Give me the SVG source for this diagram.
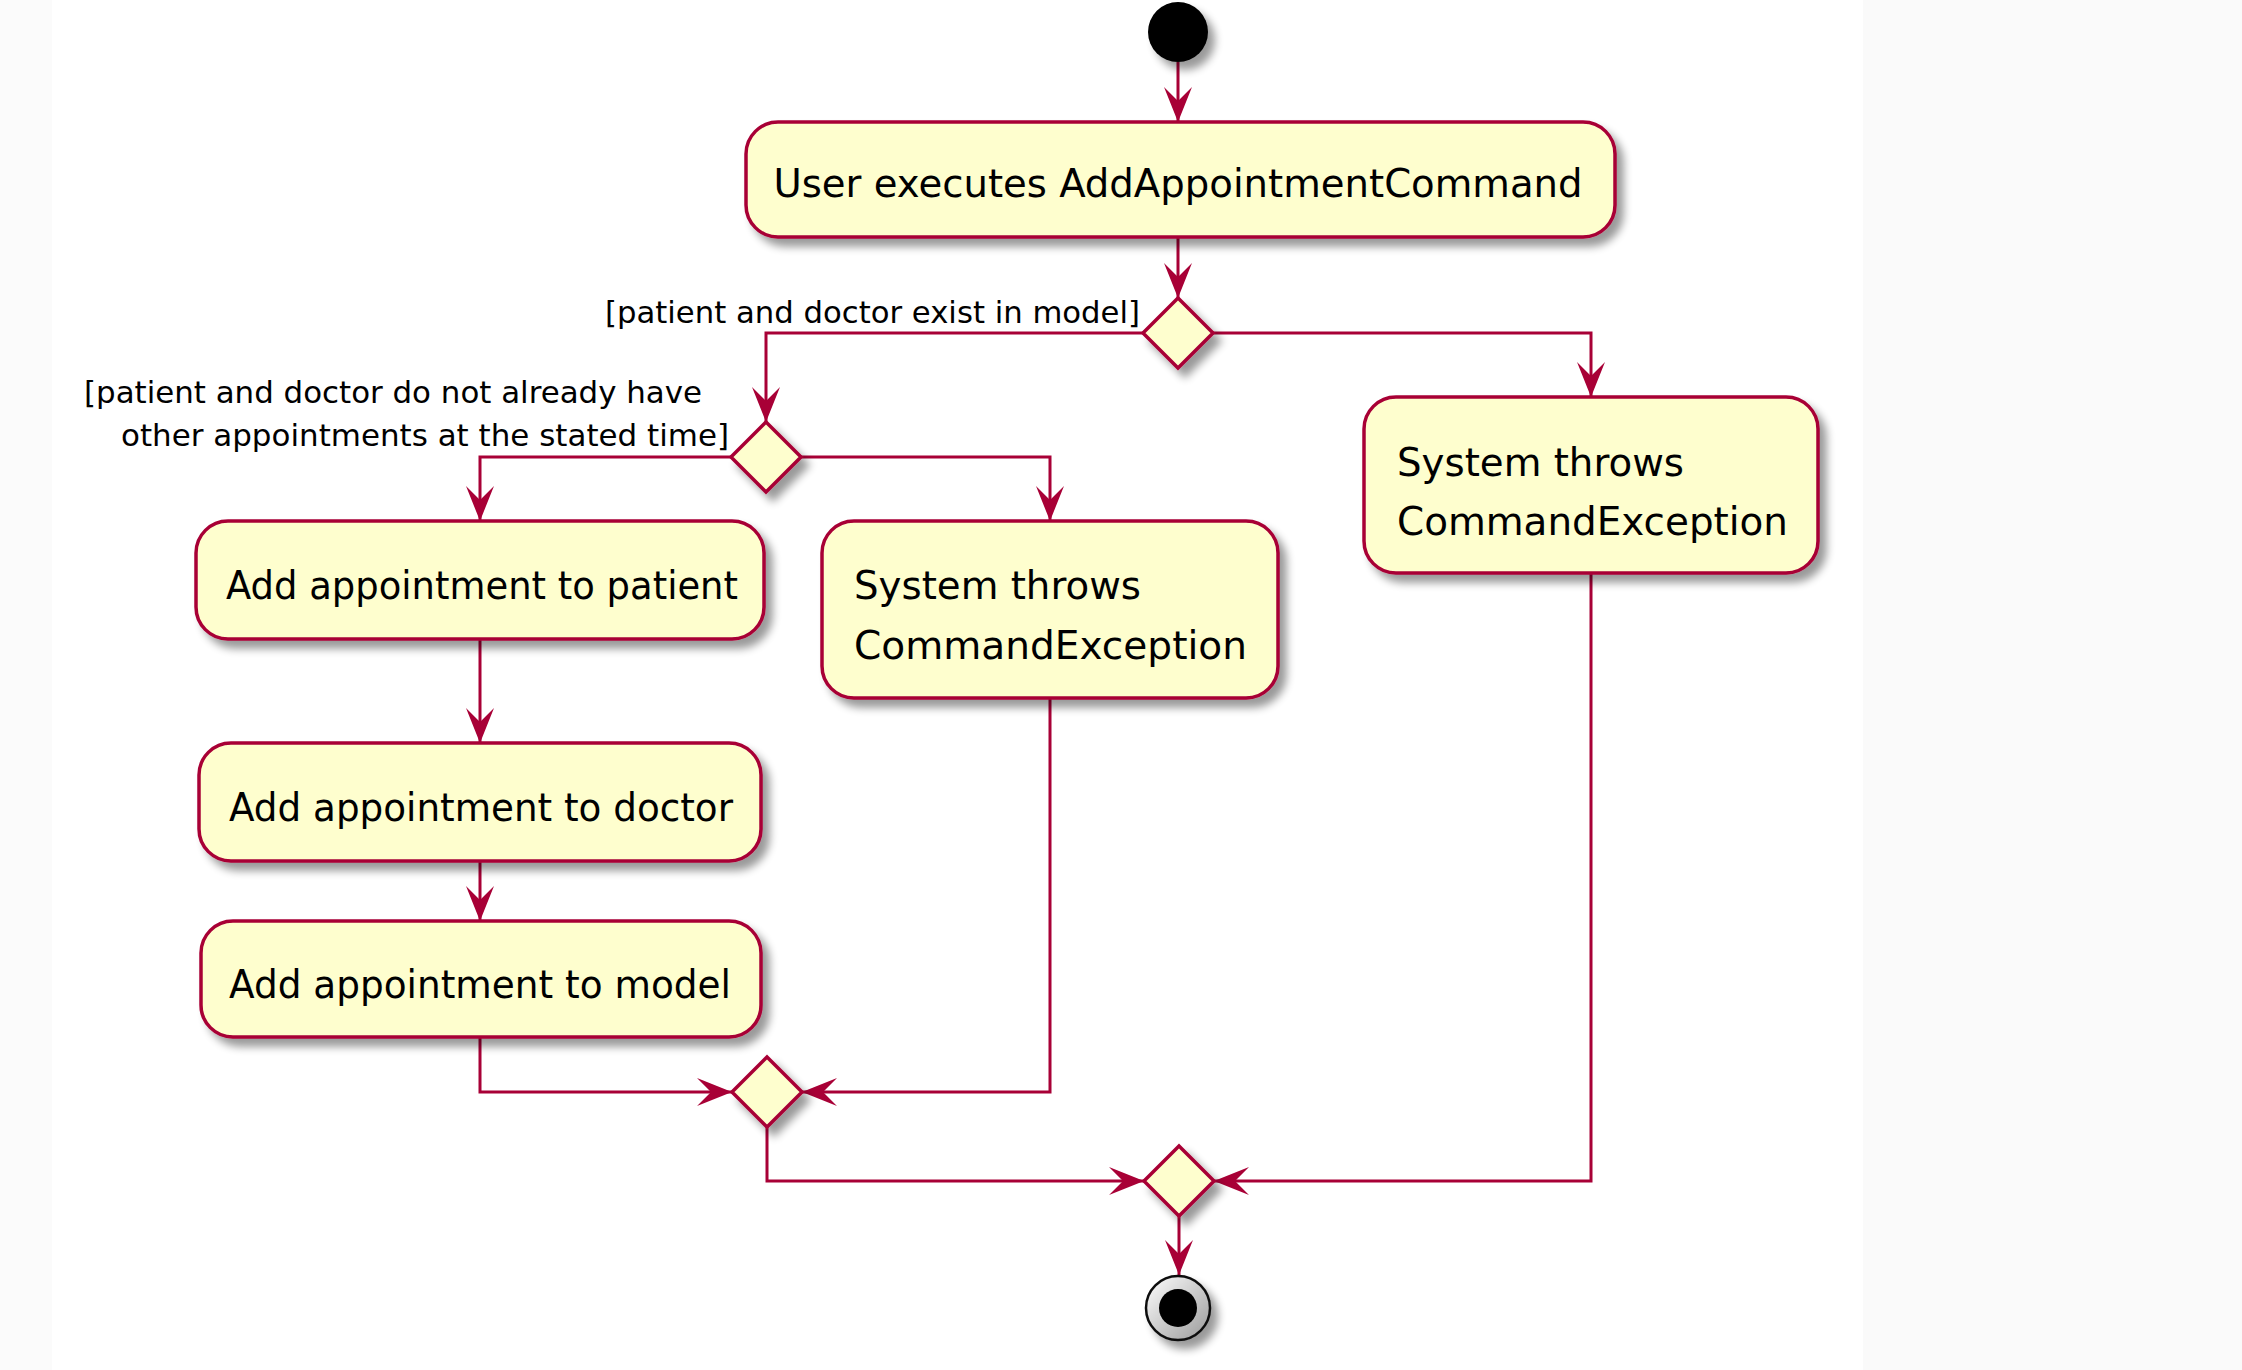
<svg xmlns="http://www.w3.org/2000/svg" width="2242" height="1370" viewBox="0 0 2242 1370">
<style>
.act{fill:#FEFECE;stroke:#A80036;stroke-width:3.5}
.dia{fill:#FEFECE;stroke:#A80036;stroke-width:3.5}
.tx{font-family:"DejaVu Sans","Liberation Sans",sans-serif;font-size:38.5px;fill:#000}
.lb{font-family:"DejaVu Sans","Liberation Sans",sans-serif;font-size:31px;fill:#000}
.cn{fill:none;stroke:#A80036;stroke-width:3}
</style>
<defs>
<filter id="sh" x="-20%" y="-20%" width="150%" height="160%">
<feGaussianBlur in="SourceAlpha" stdDeviation="4"/>
<feOffset dx="7" dy="8"/>
<feComponentTransfer><feFuncA type="linear" slope="0.4"/></feComponentTransfer>
<feMerge><feMergeNode/><feMergeNode in="SourceGraphic"/></feMerge>
</filter>
<marker id="ah" markerUnits="userSpaceOnUse" viewBox="-36 -16 37 32" refX="0" refY="0" markerWidth="37" markerHeight="32" orient="auto">
<path d="M0,0 L-35,-14 L-21,0 L-35,14 Z" fill="#A80036"/>
</marker>
<linearGradient id="ring" x1="0" y1="0" x2="1" y2="1">
<stop offset="0" stop-color="#ffffff"/>
<stop offset="1" stop-color="#9a9a9a"/>
</linearGradient>
</defs>
<rect x="0" y="0" width="2242" height="1370" fill="#ffffff"/>
<rect x="0" y="0" width="52" height="1370" fill="#fbfbfb"/>
<rect x="1863" y="0" width="379" height="1370" fill="#fafafa"/>

<g id="connectors">
<path class="cn" d="M1178,62 L1178,122" marker-end="url(#ah)"/>
<path class="cn" d="M1178,237 L1178,298" marker-end="url(#ah)"/>
<path class="cn" d="M1143,333 L766,333 L766,422" marker-end="url(#ah)"/>
<path class="cn" d="M1213,333 L1591,333 L1591,397" marker-end="url(#ah)"/>
<path class="cn" d="M731,457 L480,457 L480,521" marker-end="url(#ah)"/>
<path class="cn" d="M801,457 L1050,457 L1050,521" marker-end="url(#ah)"/>
<path class="cn" d="M480,639 L480,743" marker-end="url(#ah)"/>
<path class="cn" d="M480,861 L480,921" marker-end="url(#ah)"/>
<path class="cn" d="M480,1037 L480,1092 L732,1092" marker-end="url(#ah)"/>
<path class="cn" d="M1050,698 L1050,1092 L802,1092" marker-end="url(#ah)"/>
<path class="cn" d="M767,1127 L767,1181 L1144,1181" marker-end="url(#ah)"/>
<path class="cn" d="M1591,573 L1591,1181 L1214,1181" marker-end="url(#ah)"/>
<path class="cn" d="M1179,1216 L1179,1275" marker-end="url(#ah)"/>
<text class="lb" x="605" y="323" textLength="535" lengthAdjust="spacingAndGlyphs">[patient and doctor exist in model]</text>
<text class="lb" x="84" y="403" textLength="618" lengthAdjust="spacingAndGlyphs">[patient and doctor do not already have</text>
<text class="lb" x="121" y="446" textLength="608" lengthAdjust="spacingAndGlyphs">other appointments at the stated time]</text>
</g>

<g id="start">
<circle cx="1178" cy="32" r="30" fill="#000" filter="url(#sh)"/>
</g>

<g id="userExecutes">
<rect class="act" x="746" y="122" width="869" height="115" rx="32" ry="32" filter="url(#sh)"/>
<text class="tx" x="1178" y="197" text-anchor="middle" textLength="809" lengthAdjust="spacingAndGlyphs">User executes AddAppointmentCommand</text>
</g>

<g id="decision1">
<polygon class="dia" points="1178,298 1213,333 1178,368 1143,333" filter="url(#sh)"/>
</g>

<g id="decision2">
<polygon class="dia" points="766,422 801,457 766,492 731,457" filter="url(#sh)"/>
</g>

<g id="addPatient">
<rect class="act" x="196" y="521" width="568" height="118" rx="32" ry="32" filter="url(#sh)"/>
<text class="tx" x="482" y="599" text-anchor="middle" textLength="512" lengthAdjust="spacingAndGlyphs">Add appointment to patient</text>
</g>

<g id="addDoctor">
<rect class="act" x="199" y="743" width="562" height="118" rx="32" ry="32" filter="url(#sh)"/>
<text class="tx" x="481" y="821" text-anchor="middle" textLength="504" lengthAdjust="spacingAndGlyphs">Add appointment to doctor</text>
</g>

<g id="addModel">
<rect class="act" x="201" y="921" width="560" height="116" rx="32" ry="32" filter="url(#sh)"/>
<text class="tx" x="480" y="998" text-anchor="middle" textLength="502" lengthAdjust="spacingAndGlyphs">Add appointment to model</text>
</g>

<g id="throwsMiddle">
<rect class="act" x="822" y="521" width="456" height="177" rx="32" ry="32" filter="url(#sh)"/>
<text class="tx" x="854" y="599" textLength="287" lengthAdjust="spacingAndGlyphs">System throws</text>
<text class="tx" x="854" y="659" textLength="393" lengthAdjust="spacingAndGlyphs">CommandException</text>
</g>

<g id="throwsRight">
<rect class="act" x="1364" y="397" width="454" height="176" rx="32" ry="32" filter="url(#sh)"/>
<text class="tx" x="1397" y="476" textLength="287" lengthAdjust="spacingAndGlyphs">System throws</text>
<text class="tx" x="1397" y="535" textLength="391" lengthAdjust="spacingAndGlyphs">CommandException</text>
</g>

<g id="merge1">
<polygon class="dia" points="767,1057 802,1092 767,1127 732,1092" filter="url(#sh)"/>
</g>

<g id="merge2">
<polygon class="dia" points="1179,1146 1214,1181 1179,1216 1144,1181" filter="url(#sh)"/>
</g>

<g id="end">
<circle cx="1178" cy="1308" r="32" fill="url(#ring)" stroke="#111" stroke-width="2.5" filter="url(#sh)"/>
<circle cx="1178" cy="1308" r="19" fill="#000"/>
</g>
</svg>
